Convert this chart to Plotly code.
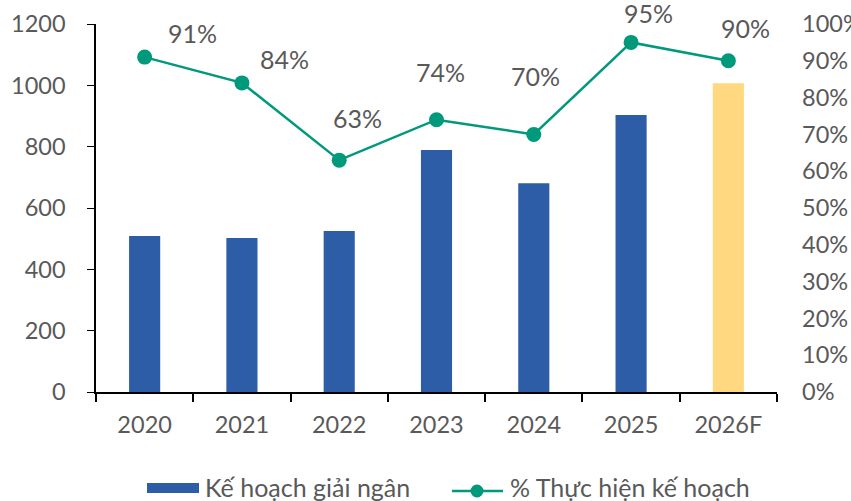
import plotly.graph_objects as go

categories = ["2020", "2021", "2022", "2023", "2024", "2025", "2026F"]
ke_hoach = [509, 502, 525, 789, 681, 903, 1007]
pct_thuc_hien = [0.91, 0.84, 0.63, 0.74, 0.70, 0.95, 0.90]
pct_labels = ["91%", "84%", "63%", "74%", "70%", "95%", "90%"]
legend_names = ["Kế hoạch giải ngân", "% Thực hiện kế hoạch"]

BLUE = "#2E5DA8"
YELLOW = "#FFD880"
TEAL = "#00997C"
GREY = "#595959"
FONT = "Lato"
FS = 23.5
LFS = 25

xpos = list(range(len(categories)))
bar_colors = [BLUE] * (len(categories) - 1) + [YELLOW]
label_shift = [(48, 24), (43, 24), (18, 42), (4, 48), (2, 58), (17, 29), (17, 33)]

fig = go.Figure()
fig.add_trace(go.Bar(
    x=xpos, y=ke_hoach, name=legend_names[0],
    marker=dict(color=bar_colors, line=dict(width=0)),
    width=0.32,
))
fig.add_trace(go.Scatter(
    x=xpos, y=pct_thuc_hien, name=legend_names[1],
    yaxis="y2", mode="lines+markers",
    line=dict(color=TEAL, width=2.5),
    marker=dict(color=TEAL, size=15),
))

for xi, v, t, (dx, dy) in zip(xpos, pct_thuc_hien, pct_labels, label_shift):
    fig.add_annotation(x=xi, y=v, xref="x", yref="y2", text=t, showarrow=False,
                       xshift=dx, yshift=dy,
                       font=dict(family=FONT, size=LFS, color=GREY))

# custom legend (pixel layout: plot area x 96..777, y 24..392)
def px_x(p):
    return (p - 96) / 681.0

def px_y(p):
    return (392 - p) / 368.0

fig.add_shape(type="rect", xref="paper", yref="paper",
              x0=px_x(147), x1=px_x(199), y0=px_y(493), y1=px_y(483),
              fillcolor=BLUE, line=dict(width=0))
fig.add_annotation(xref="paper", yref="paper", x=px_x(203), y=px_y(487),
                   xanchor="left", yanchor="middle", showarrow=False,
                   text=legend_names[0], font=dict(family=FONT, size=LFS, color=GREY))
fig.add_shape(type="line", xref="paper", yref="paper",
              x0=px_x(452), x1=px_x(503), y0=px_y(491), y1=px_y(491),
              line=dict(color=TEAL, width=2.5))
fig.add_shape(type="circle", xref="paper", yref="paper",
              x0=px_x(470.5), x1=px_x(483.5), y0=px_y(497.5), y1=px_y(484.5),
              fillcolor=TEAL, line=dict(width=0))
fig.add_annotation(xref="paper", yref="paper", x=px_x(508), y=px_y(487),
                   xanchor="left", yanchor="middle", showarrow=False,
                   text=legend_names[1], font=dict(family=FONT, size=LFS, color=GREY))

fig.update_layout(
    width=851, height=501,
    margin=dict(l=96, r=74, t=24, b=109, autoexpand=False),
    paper_bgcolor="white", plot_bgcolor="white",
    font=dict(family=FONT, size=FS, color=GREY),
    showlegend=False,
    xaxis=dict(range=[-0.5, len(categories) - 0.5], tickvals=xpos, ticktext=categories,
               showline=True, linecolor="black", linewidth=1.5,
               ticks="outside", ticklen=8, tickcolor="rgba(0,0,0,0)",
               ticklabelstandoff=3, showgrid=False, zeroline=False, automargin=False,
               tickangle=0,
               minor=dict(tickvals=[i - 0.5 for i in range(len(categories) + 1)],
                          ticks="outside", ticklen=8, tickcolor="black", tickwidth=1.5,
                          showgrid=False)),
    yaxis=dict(range=[0, 1200], dtick=200, showline=True, linecolor="black",
               linewidth=1.5, ticks="outside", ticklen=7, tickcolor="black",
               showgrid=False, zeroline=False, ticklabelstandoff=17, automargin=False),
    yaxis2=dict(range=[0, 1], dtick=0.1, tickformat=".0%", overlaying="y",
                side="right", showline=False, showgrid=False, zeroline=False,
                ticks="", ticklabelstandoff=24, automargin=False),
)

fig.write_html("out.html", config={"displayModeBar": False},
               post_script="document.body.style.margin='0';document.body.style.overflow='hidden';")
